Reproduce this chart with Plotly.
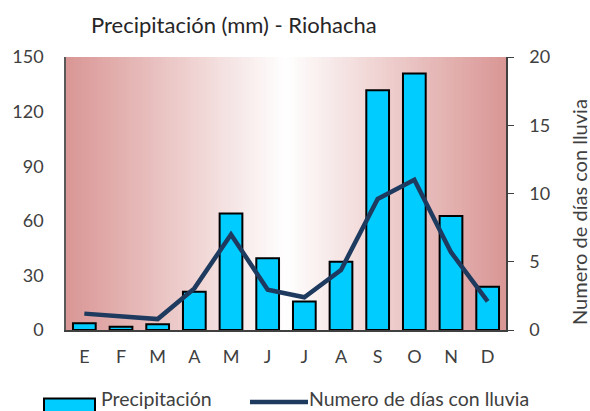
import plotly.graph_objects as go

meses = ["E", "F", "M", "A", "M", "J", "J", "A", "S", "O", "N", "D"]
precipitacion = [3.7, 1.8, 3.1, 21, 64, 39.4, 15.6, 37.5, 131.7, 140.9, 62.7, 23.8]
dias_lluvia = [1.2, 1.0, 0.8, 3.05, 7.0, 2.95, 2.4, 4.4, 9.6, 11.0, 5.7, 2.1]
y1_ticks = [0, 30, 60, 90, 120, 150]
y2_ticks = [0, 5, 10, 15, 20]

W, H = 590, 411
L, R, T, B = 66, 506, 57, 330
FONT = "Lato"
TXT = "#404040"

x_idx = list(range(len(meses)))

fig = go.Figure()
fig.add_trace(go.Bar(
    x=x_idx, y=precipitacion, name="Precipitación",
    marker=dict(color="#00CCFF", line=dict(color="black", width=2)),
    width=0.62, yaxis="y", showlegend=False,
))
fig.add_trace(go.Scatter(
    x=x_idx, y=dias_lluvia, name="Numero de días con lluvia",
    mode="lines", line=dict(color="#1F3A5F", width=4.5),
    yaxis="y2", showlegend=False,
))

# gradient background strips
shapes = []
N = 110
c0 = (217, 150, 148)
for i in range(N):
    t = (i + 0.5) / N
    f = abs(t - 0.5) * 2
    col = tuple(round(255 + (c - 255) * f) for c in c0)
    shapes.append(dict(type="rect", xref="x domain", yref="y domain",
                       x0=i / N, x1=(i + 1) / N + 0.002, y0=0, y1=1,
                       fillcolor="rgb(%d,%d,%d)" % col, line=dict(width=0),
                       layer="below"))

def px(x):
    return (x - L) / (R - L)

def py(y):
    return (B - y) / (B - T)

# legend (manual)
shapes.append(dict(type="rect", xref="paper", yref="paper",
                   x0=px(44), x1=px(95), y0=py(412), y1=py(398.5),
                   fillcolor="#00CCFF", line=dict(color="black", width=2)))
shapes.append(dict(type="line", xref="paper", yref="paper",
                   x0=px(250), x1=px(308), y0=py(402), y1=py(402),
                   line=dict(color="#1F3A5F", width=4.5)))

annotations = [
    dict(text="Precipitación (mm) - Riohacha", xref="paper", yref="paper",
         x=px(234), y=py(25), showarrow=False, xanchor="center", yanchor="middle",
         font=dict(family=FONT, size=22, color="#262626")),
    dict(text="Numero de días con lluvia", xref="paper", yref="paper",
         x=px(579), y=py(212), showarrow=False, textangle=-90,
         xanchor="center", yanchor="middle",
         font=dict(family=FONT, size=20, color=TXT)),
    dict(text="Precipitación", xref="paper", yref="paper",
         x=px(100), y=py(398.5), showarrow=False, xanchor="left", yanchor="middle",
         font=dict(family=FONT, size=19.5, color=TXT), borderpad=0),
    dict(text="Numero de días con lluvia", xref="paper", yref="paper",
         x=px(308), y=py(398.5), showarrow=False, xanchor="left", yanchor="middle",
         font=dict(family=FONT, size=19.5, color=TXT), borderpad=0),
]

fig.update_layout(
    width=W, height=H,
    margin=dict(l=L, r=W - R, t=T, b=H - B, pad=0),
    paper_bgcolor="white", plot_bgcolor="white",
    font=dict(family=FONT, size=18, color=TXT),
    showlegend=False,
    xaxis=dict(range=[-0.5, 11.5], tickmode="array", tickvals=x_idx, ticktext=meses,
               showgrid=False, showline=True, linecolor="#404040", linewidth=1.5,
               ticks="", ticklabelstandoff=10, zeroline=False, fixedrange=True),
    yaxis=dict(range=[0, 150], tickvals=y1_ticks, showgrid=False, showline=True,
               linecolor="#595959", linewidth=1.5, ticks="", zeroline=False,
               ticklabelstandoff=17, automargin=False),
    yaxis3=dict(range=[0, 150], overlaying="y", tickvals=[30, 60, 90, 120],
                showticklabels=False, showgrid=True, gridcolor="#8C8C8C",
                gridwidth=1, zeroline=False, showline=False),
    yaxis2=dict(range=[0, 20], tickvals=y2_ticks, overlaying="y", side="right",
                showgrid=False, showline=True, linecolor="#404040", linewidth=1.5,
                ticks="outside", ticklen=6, tickcolor="#404040", zeroline=False,
                ticklabelstandoff=12, automargin=False),
    shapes=shapes,
    annotations=annotations,
)

fig.write_html("out.html", config={"displayModeBar": False},
               post_script="document.body.style.margin='0';document.body.style.overflow='hidden';")
